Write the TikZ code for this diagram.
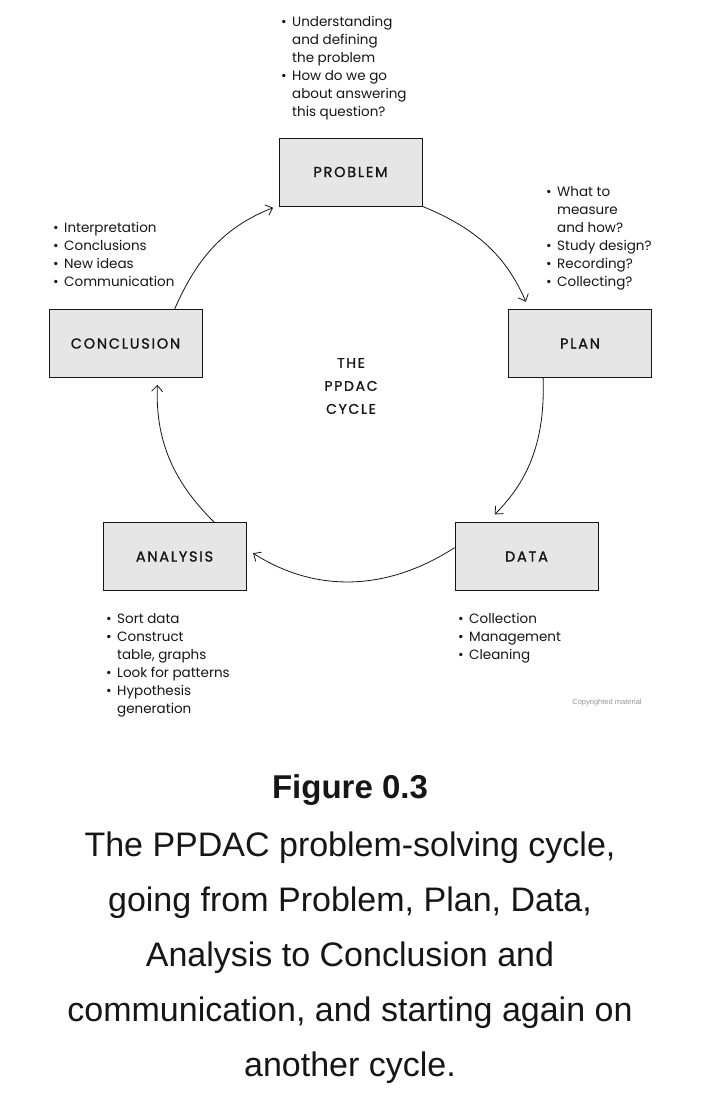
\documentclass[tikz,border=0pt]{standalone}
\usepackage{fontspec}
\setmainfont{Poppins}
\newfontfamily\capfont{Liberation Sans}
\newfontfamily\stagefont[LetterSpace=12,FakeBold=1.2]{Poppins}
\usetikzlibrary{arrows.meta,positioning}
\definecolor{boxgray}{RGB}{230,230,230}
\definecolor{ink}{RGB}{22,22,22}
\newcommand{\itm}{\makebox[11pt][l]{\textbullet}}
\newcommand{\cont}{\hspace*{11pt}}

\begin{document}
\begin{tikzpicture}[x=1pt,y=-1pt,
stage/.style={draw=ink,line width=0.8pt,fill=boxgray,minimum width=143pt,minimum height=68pt,inner sep=0pt,text=ink,font=\stagefont\fontsize{14.5}{16}\selectfont},
notes/.style={anchor=north west,inner sep=0pt,align=left,text=ink,font=\fontsize{13.5}{18}\selectfont},
cyc/.style={-{Straight Barb[length=6pt,width=11pt]},line width=0.8pt,draw=ink}]
\useasboundingbox[fill=white] (0,0) rectangle (706,1093);
% the five stages
\node[stage] (problem) at (350.5,172) {PROBLEM};
\node[stage] (plan) at (580,343.5) {PLAN};
\node[stage] (data) at (526.5,556.5) {DATA};
\node[stage] (analysis) at (174.5,556.5) {ANALYSIS};
\node[stage,minimum width=153pt] (conclusion) at (125.5,343.5) {CONCLUSION};
\node[align=center,text=ink,font=\stagefont\fontsize{14}{23}\selectfont] (cycle) at (351,386) {THE\\PPDAC\\CYCLE};
% notes beside each stage
\node[notes] (problemnotes) at (281,16) {\itm Understanding\\\cont and defining\\\cont the problem\\\itm How do we go\\\cont about answering\\\cont this question?};
\node[notes] (plannotes) at (546,186) {\itm What to\\\cont measure\\\cont and how?\\\itm Study design?\\\itm Recording?\\\itm Collecting?};
\node[notes] (conclusionnotes) at (53,222) {\itm Interpretation\\\itm Conclusions\\\itm New ideas\\\itm Communication};
\node[notes] (analysisnotes) at (106,613) {\itm Sort data\\\itm Construct\\\cont table, graphs\\\itm Look for patterns\\\itm Hypothesis\\\cont generation};
\node[notes] (datanotes) at (458,613) {\itm Collection\\\itm Management\\\itm Cleaning};
\node[text=black!40,font=\capfont\fontsize{7.5}{9}\selectfont] (copyright) at (607,703) {Copyrighted material};
% the cycle
\draw[cyc,shorten >=6pt] (conclusion.35) to[out=66.5,in=201.5] (problem.205);
\draw[cyc,shorten >=8pt] (problem.south east) to[out=-22,in=113.2] (plan.146.7);
\draw[cyc,shorten >=11pt] (plan.223.8) to[out=-88,in=44.8] (data.139.6);
\draw[cyc,shorten >=8pt] (data.173.2) to[out=-147.2,in=-32.5] (analysis.6.8);
\draw[cyc,shorten >=7pt] (analysis.41.1) to[out=135.2,in=-92] (conclusion.-47.6);
% caption
\node[font=\capfont\bfseries\fontsize{33}{40}\selectfont,text=ink] (figlabel) at (350,790) {Figure 0.3};
\node[anchor=north,inner sep=0pt,align=center,text=ink,font=\capfont\fontsize{34}{55}\selectfont] (caption) at (350,832) {The PPDAC problem-solving cycle,\\going from Problem, Plan, Data,\\Analysis to Conclusion and\\communication, and starting again on\\another cycle.};
\end{tikzpicture}
\end{document}
